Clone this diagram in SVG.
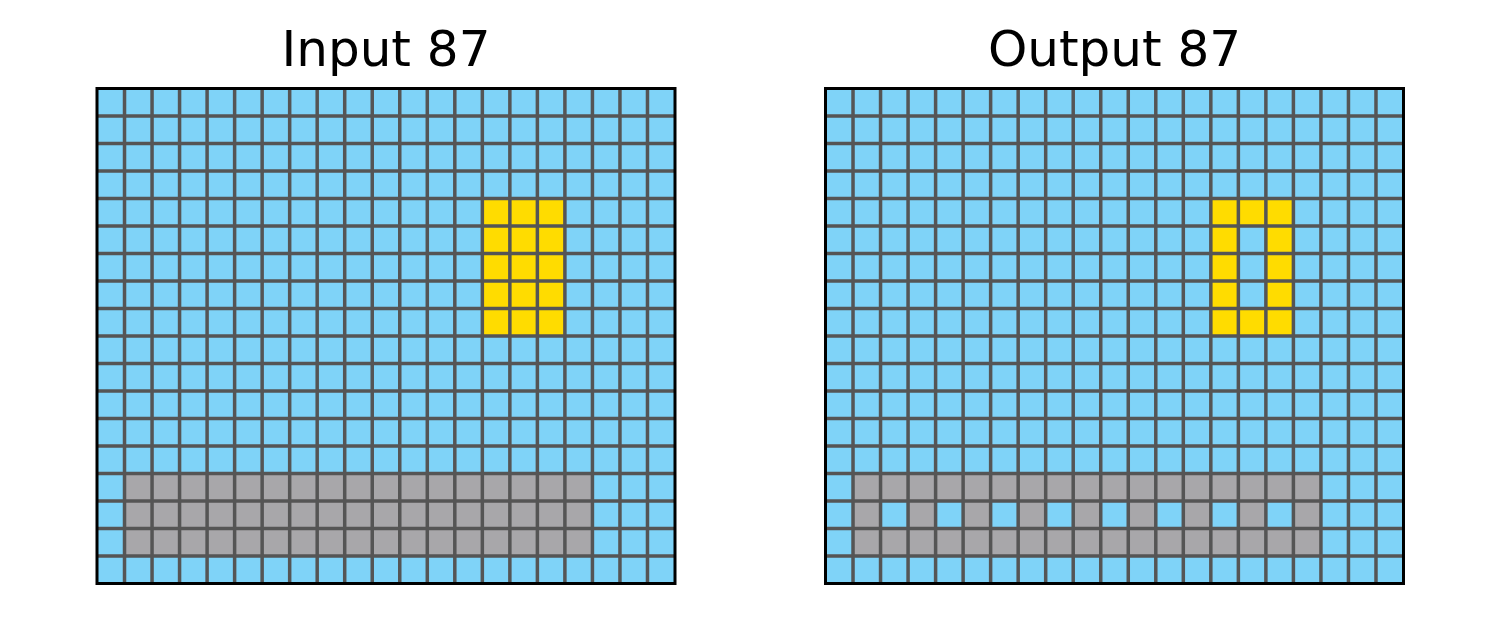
<svg xmlns="http://www.w3.org/2000/svg" xmlns:xlink="http://www.w3.org/1999/xlink" width="1500" height="629" viewBox="0 0 1500 629">
<style>
.title{font-family:"DejaVu Sans",sans-serif;font-size:50px;fill:#000;text-anchor:middle}
.bg{fill:#7fd3f8}
.y{fill:#ffdc00}
.g{fill:#a8a7aa}
.b{fill:#7fd3f8}
.lines{fill:none;stroke:#555555;stroke-width:3.5}
.frame{fill:none;stroke:#000;stroke-width:3}
</style>
<defs>
<path id="gridlines" class="lines" d="M27.52 0V495M55.05 0V495M82.57 0V495M110.1 0V495M137.62 0V495M165.14 0V495M192.67 0V495M220.19 0V495M247.71 0V495M275.24 0V495M302.76 0V495M330.29 0V495M357.81 0V495M385.33 0V495M412.86 0V495M440.38 0V495M467.9 0V495M495.43 0V495M522.95 0V495M550.48 0V495M0 27.5H578M0 55H578M0 82.5H578M0 110H578M0 137.5H578M0 165H578M0 192.5H578M0 220H578M0 247.5H578M0 275H578M0 302.5H578M0 330H578M0 357.5H578M0 385H578M0 412.5H578M0 440H578M0 467.5H578"/>
</defs>
<rect width="1500" height="629" fill="#fff"/>
<g id="input">
<text class="title" x="386" y="66">Input 87</text>
<g transform="translate(97,88.5)">
<rect class="bg" width="578" height="495"/>
<rect class="y" x="385.33" y="110" width="82.57" height="137.5"/>
<rect class="g" x="27.52" y="385" width="467.9" height="82.5"/>
<use xlink:href="#gridlines"/>
<rect class="frame" width="578" height="495"/>
</g>
</g>
<g id="output">
<text class="title" x="1114.5" y="66">Output 87</text>
<g transform="translate(825.5,88.5)">
<rect class="bg" width="578" height="495"/>
<rect class="y" x="385.33" y="110" width="82.57" height="137.5"/>
<rect class="b" x="412.86" y="137.5" width="27.52" height="82.5"/>
<rect class="g" x="27.52" y="385" width="467.9" height="82.5"/>
<rect class="b" x="55.05" y="412.5" width="27.52" height="27.5"/>
<rect class="b" x="110.1" y="412.5" width="27.52" height="27.5"/>
<rect class="b" x="165.14" y="412.5" width="27.52" height="27.5"/>
<rect class="b" x="220.19" y="412.5" width="27.52" height="27.5"/>
<rect class="b" x="275.24" y="412.5" width="27.52" height="27.5"/>
<rect class="b" x="330.29" y="412.5" width="27.52" height="27.5"/>
<rect class="b" x="385.33" y="412.5" width="27.52" height="27.5"/>
<rect class="b" x="440.38" y="412.5" width="27.52" height="27.5"/>
<use xlink:href="#gridlines"/>
<rect class="frame" width="578" height="495"/>
</g>
</g>
</svg>
